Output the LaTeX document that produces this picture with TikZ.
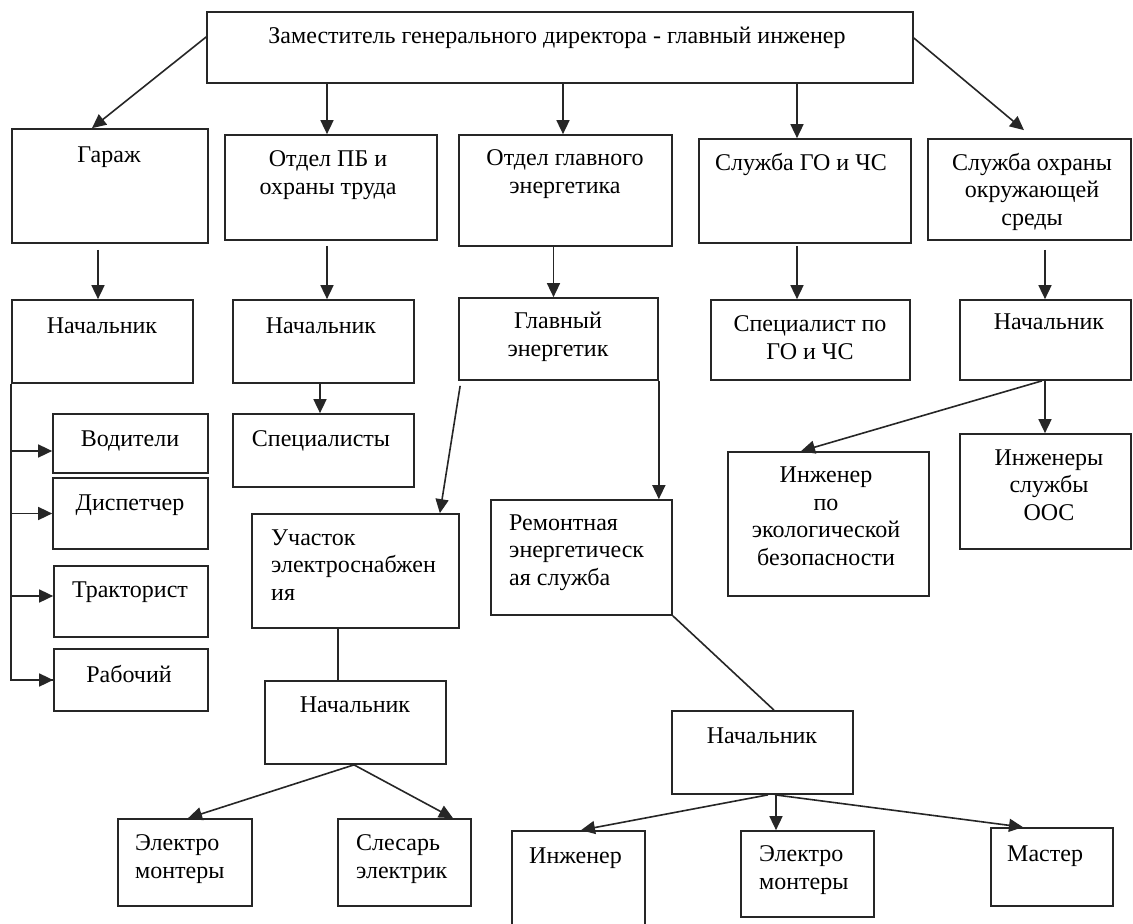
\documentclass[tikz,border=0pt]{standalone}
\usepackage{fontspec}
\setmainfont{Liberation Serif}
\usetikzlibrary{arrows.meta}
\begin{document}
\begin{tikzpicture}[x=1pt,y=-1pt,
  box/.style={draw=black!85,line width=1.7pt,inner sep=0pt},
  lbl/.style={anchor=base,align=center,inner sep=0pt,font=\fontsize{24}{27.5}\selectfont},
  lbll/.style={lbl,align=left,anchor=base west},
  arr/.style={draw=black!85,line width=1.6pt,-{Triangle[length=14pt,width=13pt]}},
  ln/.style={draw=black!85,line width=1.6pt}]
\useasboundingbox[fill=white] (0,0) rectangle (1133,924);
% boxes given by their corners
\newcommand\bx[5]{\node[box,minimum width=#4-#2,minimum height=#5-#3] (#1) at ({(#2+#4)/2},{(#3+#5)/2}) {};}
\bx{top}{207}{12}{913}{83}
\bx{garage}{12}{129}{208}{243}
\bx{pb}{225}{135}{437}{240}
\bx{oge}{459}{135}{672}{246}
\bx{go}{699}{139}{911}{243}
\bx{oos}{928}{139}{1131}{240}
\bx{gnach}{12}{300}{193}{383}
\bx{pbnach}{233}{300}{414}{383}
\bx{spec}{233}{414}{414}{487}
\bx{ge}{459}{298}{658}{380}
\bx{gospec}{711}{300}{910}{380}
\bx{oosnach}{960}{300}{1131}{380}
\bx{vod}{53}{414}{208}{473}
\bx{disp}{53}{478}{208}{549}
\bx{trakt}{54}{566}{208}{637}
\bx{rab}{54}{649}{208}{711}
\bx{ingeco}{728}{452}{929}{596}
\bx{ingoos}{960}{434}{1131}{549}
\bx{uch}{252}{514}{459}{628}
\bx{rem}{491}{500}{672}{615}
\bx{unach}{265}{681}{446}{764}
\bx{emA}{118}{819}{252}{906}
\bx{sles}{338}{819}{471}{906}
\bx{rnach}{672}{711}{853}{794}
\bx{ing}{512}{831}{645}{940}
\bx{emB}{741}{831}{874}{917}
\bx{master}{991}{828}{1113}{906}
% texts (multi-line labels sit on the baseline of their last line)
\node[lbl] (top-t) at (557,43) {Заместитель генерального директора - главный инженер};
\node[lbl] (garage-t) at (109,162) {Гараж};
\node[lbl] (pb-t) at (328,194) {Отдел ПБ и\\охраны труда};
\node[lbl] (oge-t) at (565,193) {Отдел главного\\энергетика};
\node[lbl] (go-t) at (801,170) {Служба ГО и ЧС};
\node[lbl] (oos-t) at (1032,225) {Служба охраны\\окружающей\\среды};
\node[lbl] (gnach-t) at (102,333) {Начальник};
\node[lbl] (pbnach-t) at (321,333) {Начальник};
\node[lbl] (spec-t) at (321,446) {Специалисты};
\node[lbl] (ge-t) at (558,356) {Главный\\энергетик};
\node[lbl] (gospec-t) at (810,359) {Специалист по\\ГО и ЧС};
\node[lbl] (oosnach-t) at (1049,329) {Начальник};
\node[lbl] (vod-t) at (130,446) {Водители};
\node[lbl] (disp-t) at (130,510) {Диспетчер};
\node[lbl] (trakt-t) at (130,597) {Тракторист};
\node[lbl] (rab-t) at (129,682) {Рабочий};
\node[lbl] (ingeco-t) at (826,565) {Инженер\\по\\экологической\\безопасности};
\node[lbl] (ingoos-t) at (1049,520) {Инженеры\\службы\\ООС};
\node[lbll] (uch-t) at (271,600) {Участок\\электроснабжен\\ия};
\node[lbll] (rem-t) at (509,585) {Ремонтная\\энергетическ\\ая служба};
\node[lbl] (unach-t) at (355,712) {Начальник};
\node[lbll] (emA-t) at (135,878) {Электро\\монтеры};
\node[lbll] (sles-t) at (356,878) {Слесарь\\электрик};
\node[lbl] (rnach-t) at (762,743) {Начальник};
\node[lbll] (ing-t) at (529,863) {Инженер};
\node[lbll] (emB-t) at (759,889) {Электро\\монтеры};
\node[lbll] (master-t) at (1007,861) {Мастер};
% connectors from the deputy director
\draw[arr] ([yshift=10.5pt]top.west) -- ([xshift=-18pt]garage.north);
\draw[arr] ([yshift=9.5pt]top.east) -- ([xshift=-5.5pt,yshift=8pt]oos.north);
\draw[arr] ([xshift=-4pt]pb.north |- top.south) -- ([xshift=-4pt]pb.north);
\draw[arr] ([xshift=-2.5pt]oge.north |- top.south) -- ([xshift=-2.5pt]oge.north);
\draw[arr] ([xshift=-8pt]go.north |- top.south) -- ([xshift=-8pt]go.north);
% second level
\draw[arr] ([xshift=-4.5pt,yshift=-6pt]gnach.north |- garage.south) -- ([xshift=-4.5pt]gnach.north);
\draw[arr] ([xshift=-4pt,yshift=-5pt]pb.south) -- ([xshift=-4pt]pbnach.north -| pb.south);
\draw[arr] ([xshift=-5pt]ge.north |- oge.south) -- ([xshift=-5pt]ge.north);
\draw[arr] ([xshift=-8pt,yshift=-2pt]go.south) -- ([xshift=-8pt]gospec.north -| go.south);
\draw[arr] ([xshift=-0.5pt,yshift=-9pt]oosnach.north |- oos.south) -- ([xshift=-0.5pt]oosnach.north);
% garage staff
\draw[ln] (gnach.south west) |- (rab.west);
\draw[arr] ([yshift=-7.5pt]vod.west -| gnach.south west) -- ([yshift=-7.5pt]vod.west);
\draw[arr] (disp.west -| gnach.south west) -- (disp.west);
\draw[arr] ([yshift=5.5pt]trakt.west -| gnach.south west) -- ([yshift=5.5pt]trakt.west);
\draw[arr] (rab.west) ++(-1pt,0) -- (rab.west);
\draw[arr] ([xshift=-3.5pt]pbnach.south) -- ([xshift=-3.5pt]spec.north);
% chief power engineer
\draw[arr] ([xshift=2pt,yshift=-5pt]ge.south west) -- ([xshift=-20pt]uch.north east);
\draw[arr] (ge.south east) -- (ge.south east |- rem.north);
% environment service
\draw[arr] ([xshift=-3.5pt]oosnach.south) -- ([xshift=-27.5pt]ingeco.north);
\draw[arr] ([xshift=-0.5pt]oosnach.south) -- ([xshift=-0.5pt]ingoos.north);
% power supply section
\draw[ln] ([xshift=-17.5pt]uch.south) -- ([xshift=-17.5pt]unach.north);
\draw[arr] ([xshift=-1.5pt]unach.south) -- ([xshift=3pt]emA.north);
\draw[arr] ([xshift=-1.5pt]unach.south) -- ([xshift=48.5pt]sles.north);
% repair service
\draw[ln] (rem.south east) -- ([xshift=11.5pt]rnach.north);
\draw[arr] ([xshift=5.5pt]rnach.south) -- ([xshift=2.5pt]ing.north);
\draw[arr] ([xshift=13.5pt]rnach.south) -- ([xshift=-31.5pt]emB.north);
\draw[arr] ([xshift=12.5pt]rnach.south) -- ([xshift=-29pt]master.north);
\end{tikzpicture}
\end{document}
